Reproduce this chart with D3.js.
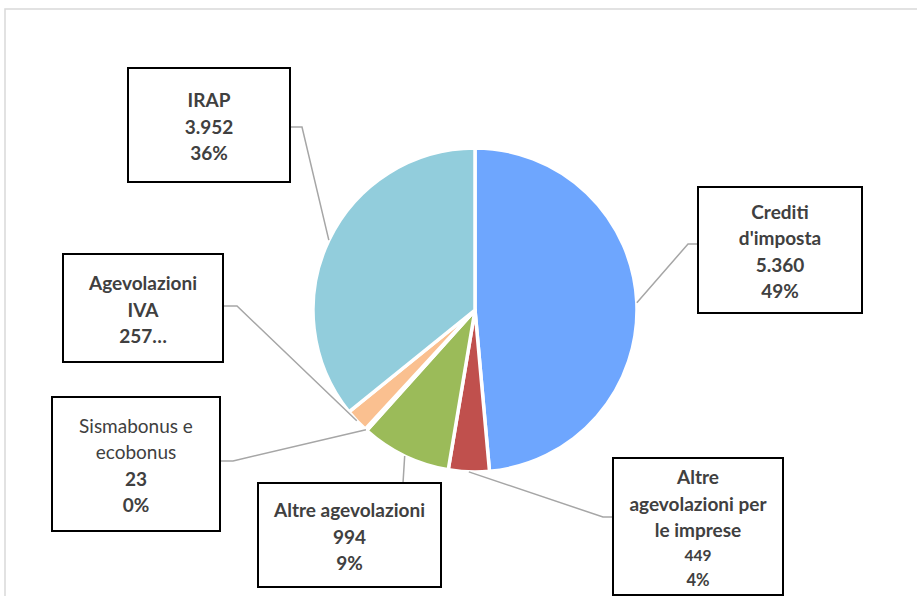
<!DOCTYPE html>
<html>
<head>
<meta charset="utf-8">
<script src="https://cdn.jsdelivr.net/npm/d3@7"></script>
<style>
  html, body { margin: 0; padding: 0; background: #fff; }
  svg { display: block; }
</style>
</head>
<body>
<svg id="chart" width="917" height="596"></svg>
<script>
// ---- data ----
const categories = ["Crediti d'imposta", "Altre agevolazioni per le imprese", "Altre agevolazioni", "Sismabonus e ecobonus", "Agevolazioni IVA", "IRAP"];
const values = [5360, 449, 994, 23, 257, 3952];
const colors = ["#6EA6FE", "#C0504D", "#9BBB59", "#8064A2", "#FAC090", "#92CDDC"];

// ---- label layout (positions only) ----
const FS = 19;
const labelLayout = [
  { lines: [["Crediti",1,FS],["d'imposta",1,FS]], truncate:false, box:[698,187,164,126], elbow:[688,244], anchor:[698,244] },
  { lines: [["Altre",1,FS],["agevolazioni per",1,FS],["le imprese",1,FS]], valSize:15.5, pctSize:16.5, box:[613,458,170,137], elbow:[603,517], anchor:[613,517] },
  { lines: [["Altre agevolazioni",1,FS]], box:[258,483,183,104], elbow:null, anchor:[403,483] },
  { lines: [["Sismabonus e",0,FS],["ecobonus",0,FS]], box:[52,397,168,134], elbow:[233,461], anchor:[220,461] },
  { lines: [["Agevolazioni",1,FS],["IVA",1,FS]], truncate:true, box:[63,254,160,108], elbow:[237,306], anchor:[223,306] },
  { lines: [["IRAP",1,FS]], box:[128,68,162,114], elbow:[302,127], anchor:[291,127] }
];

const svg = d3.select("#chart");
const W = 917, H = 596;
const cx = 475, cy = 310, R = 162;

// chart frame
svg.append("path")
  .attr("d", `M5,${H} L5,9 L${W},9`)
  .attr("fill", "none").attr("stroke", "#D9D9D9").attr("stroke-width", 1.5);

const total = d3.sum(values);
const itFmt = d3.formatLocale({decimal: ",", thousands: ".", grouping: [3], currency: ["€",""]}).format(",d");
const pctFmt = d3.format(".0%");

const pie = d3.pie().sort(null).value(d => d)(values);
const arc = d3.arc().innerRadius(0).outerRadius(R);

const g = svg.append("g").attr("transform", `translate(${cx},${cy})`);
g.selectAll("path.slice").data(pie).join("path")
  .attr("class", "slice")
  .attr("d", arc)
  .attr("fill", (d, i) => colors[i])
  .attr("stroke", "#fff").attr("stroke-width", 3.5).attr("stroke-linejoin", "round");

// leader lines
pie.forEach((d, i) => {
  const L = labelLayout[i];
  const a = (d.startAngle + d.endAngle) / 2;
  const p = [cx + R * Math.sin(a), cy - R * Math.cos(a)];
  const pts = [p];
  if (L.elbow) pts.push(L.elbow);
  pts.push(L.anchor);
  svg.append("path")
    .attr("d", d3.line()(pts))
    .attr("fill", "none").attr("stroke", "#A6A6A6").attr("stroke-width", 1.5);
});

// label boxes
pie.forEach((d, i) => {
  const L = labelLayout[i];
  const [bx, by, bw, bh] = L.box;
  svg.append("rect")
    .attr("x", bx).attr("y", by).attr("width", bw).attr("height", bh)
    .attr("fill", "#fff").attr("stroke", "#000").attr("stroke-width", 2);
  const valText = itFmt(values[i]) + (L.truncate ? "…" : "");
  const lines = L.lines.slice();
  lines.push([valText, 1, L.valSize || FS]);
  if (!L.truncate) lines.push([pctFmt(values[i] / total), 1, L.pctSize || FS]);
  const lh = s => s >= FS ? 26.5 : 24.5;
  const totalH = d3.sum(lines, l => lh(l[2]));
  let y = by + bh / 2 - totalH / 2 + 1;
  const t = svg.append("g");
  lines.forEach(l => {
    const h = lh(l[2]);
    t.append("text")
      .attr("x", bx + bw / 2).attr("y", y + h / 2)
      .attr("text-anchor", "middle").attr("dominant-baseline", "central")
      .attr("font-family", "Lato, 'Open Sans', sans-serif")
      .attr("font-weight", l[1] ? 700 : 400)
      .attr("font-size", l[2])
      .attr("fill", "#404040")
      .text(l[0]);
    y += h;
  });
});
</script>
</body>
</html>
